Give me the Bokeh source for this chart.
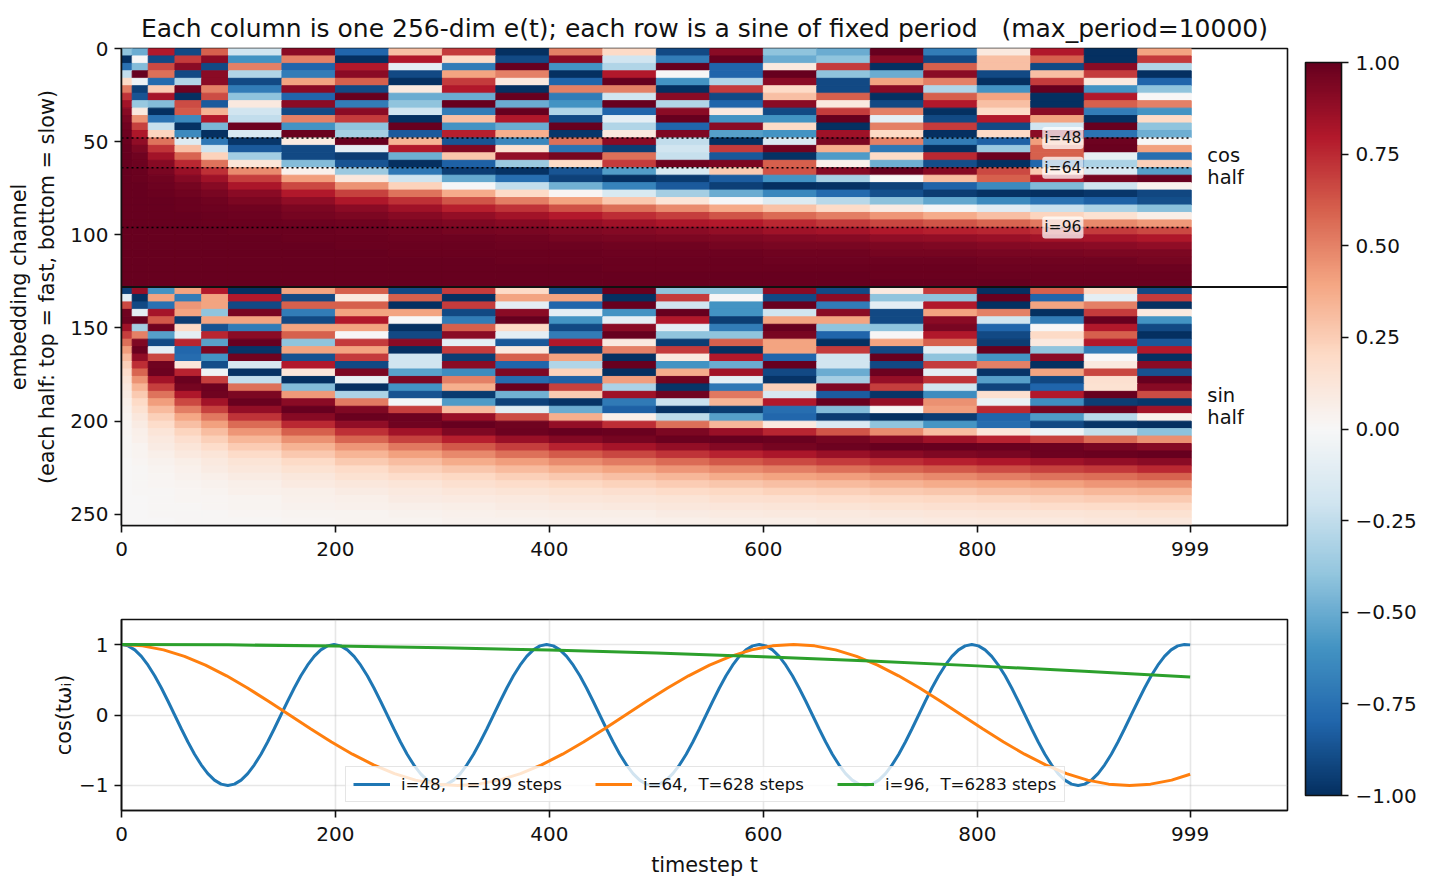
import numpy as np
from bokeh.embed import file_html
from bokeh.resources import INLINE
from bokeh.plotting import figure
from bokeh.layouts import column, row
from bokeh.models import (Range1d, FixedTicker, LinearColorMapper, ColorBar, Label, Span,
                          Legend, LegendItem, ColumnDataSource)
from bokeh.transform import transform

FONT = "DejaVu Sans"

# ---- data ----
TITLE = "Each column is one 256-dim e(t); each row is a sine of fixed period \u00a0 (max_period=10000)"
t_edges = [0, 10, 25, 50, 75, 100, 150, 200, 250, 300, 350, 400, 450, 500, 550, 600, 650, 700, 750, 800, 850, 900, 950, 1000]
row_step_edges = [0, 4, 8, 12, 16, 20, 24, 28, 32, 36, 40, 44, 48, 52, 56, 60, 64, 68, 72, 76, 80, 84, 88, 92, 96, 100, 104, 108, 112, 116, 120, 124, 128]

cos_rows = [
 [-.4,-.5,.8,-.9,.6,-.2,.9,-.8,.3,.7,-1,.5,.2,-.9,.9,-.4,-.5,1,-.7,.1,.8,-1,.4],
 [-1,0,-.9,.7,.9,-.6,.5,-1,.8,.2,-.9,.9,-.2,-.7,1,-.5,-.4,.9,-.9,.3,.6,-1,.7],
 [-.75,-.43,.66,.9,-.9,.5,-.8,.8,-.1,-.7,1,-.6,-.3,1,-.8,.1,.7,-1,.6,.3,-.9,.9,-.3],
 [-.25,1,.55,-.9,.9,-.3,-.7,.9,-.9,.4,.5,-1,.8,0,-.8,1,-.4,-.5,.9,-.9,.3,.7,-1],
 [.2,-.05,-.78,-.3,.9,-.9,.4,.6,-1,.7,.1,-.8,1,-.6,-.3,.9,-.9,.4,.5,-1,.7,.1,-.8],
 [.52,-.94,.25,.98,.5,-.7,.9,-.9,.1,.8,-1,.5,.5,-1,.7,.2,-.9,.9,-.3,-.6,1,-.6,-.4],
 [.72,-.86,.83,-1,.65,-.4,-.8,1,-.5,-.5,1,-.7,-.2,.9,-.9,.3,.6,-1,.6,.4,-1,.8,0],
 [.84,-.38,-.43,.65,-.84,.1,.9,-.7,-.4,1,-.5,-.6,1,-.3,-.8,.9,.1,-.9,.8,.3,-1,.6,.5],
 [.91,.1,-1,.61,.35,-.2,-.9,.9,-.2,-.7,1,-.3,-.8,.9,.1,-.9,.7,.5,-1,.2,.9,-.7,-.6],
 [.95,.45,-.74,-.64,.8,-.25,.5,.7,-1,.3,.8,-.9,-.1,1,-.6,-.6,1,-.1,-.9,.8,.4,-1,.2],
 [.97,.68,-.23,-.99,-.46,.98,-.6,-.4,1,-.6,-.5,1,-.3,-.8,.9,.2,-1,.5,.7,-.9,-.2,1,-.4],
 [.98,.81,.22,-.64,-1,-.15,.99,-.34,-.84,.78,.36,-.97,.1,.93,-.55,-.6,.85,.2,-1,.2,.9,-.74,-.49],
 [.99,.89,.54,-.13,-.72,-.97,.09,1,.35,-.86,-.65,.55,.9,-.25,-1,-.15,.94,.5,-.7,-.82,.42,.98,0],
 [1,.94,.72,.3,-.21,-.84,-.9,-.1,.8,.93,.15,-.74,-.95,-.2,.7,.97,.36,-.72,-1,-.37,.6,.99,.41],
 [1,.97,.84,.58,.23,-.35,-.9,-.95,-.49,.28,.88,.96,.55,-.23,-.85,-.99,-.57,.2,.75,.98,.6,-.08,-.76],
 [1,.98,.91,.75,.54,.13,-.43,-.86,-1,-.82,-.37,.2,.7,.97,.94,.6,.05,-.49,-.89,-1,-.79,-.32,.24],
 [1,.99,.95,.86,.73,.47,.05,-.37,-.72,-.95,-.99,-.86,-.56,-.16,.26,.64,.91,1,.91,.66,.27,-.15,-.55],
 [1,.99,.97,.92,.85,.69,.42,.11,-.21,-.51,-.76,-.93,-1,-.96,-.83,-.6,-.33,0,.31,.6,.82,.96,1],
 [1,1,.98,.96,.91,.82,.66,.45,.23,-.01,-.25,-.48,-.67,-.84,-.94,-1,-.99,-.93,-.81,-.64,-.44,-.21,.04],
 [1,1,.99,.97,.95,.9,.8,.68,.54,.37,.2,.02,-.16,-.34,-.5,-.65,-.78,-.88,-.95,-.99,-1,-.97,-.91],
 [1,1,1,.99,.97,.94,.89,.81,.73,.63,.51,.4,.27,.13,-.01,-.14,-.28,-.41,-.52,-.64,-.74,-.82,-.89],
 [1,1,1,.99,.98,.97,.94,.9,.85,.78,.72,.64,.56,.47,.38,.29,.19,.08,-.02,-.12,-.22,-.32,-.42],
 [1,1,1,1,.99,.98,.96,.94,.91,.88,.84,.79,.74,.69,.63,.57,.51,.44,.37,.3,.22,.15,.07],
 [1,1,1,1,.99,.99,.98,.97,.95,.93,.91,.88,.85,.82,.79,.75,.71,.67,.63,.58,.53,.48,.43],
 [1,1,1,1,1,.99,.99,.98,.97,.96,.95,.93,.92,.9,.88,.85,.83,.8,.78,.76,.73,.7,.66],
 [1,1,1,1,1,1,.99,.99,.98,.98,.97,.96,.95,.94,.93,.92,.91,.89,.88,.86,.84,.83,.81],
 [1,1,1,1,1,1,1,.99,.99,.99,.98,.98,.97,.97,.96,.95,.95,.94,.93,.92,.91,.9,.89],
 [1,1,1,1,1,1,1,1,.99,.99,.99,.99,.98,.98,.98,.97,.97,.96,.96,.95,.95,.94,.94],
 [1,1,1,1,1,1,1,1,1,1,.99,.99,.99,.99,.99,.98,.98,.98,.98,.97,.97,.97,.96],
 [1,1,1,1,1,1,1,1,1,1,1,1,.99,.99,.99,.99,.99,.99,.99,.98,.98,.98,.98],
 [1,1,1,1,1,1,1,1,1,1,1,1,1,1,1,1,1,.99,.99,.99,.99,.99,.99],
 [1,1,1,1,1,1,1,1,1,1,1,1,1,1,1,1,1,1,1,1,.99,.99,.99],
]

sin_rows = [
 [-.93,.87,-.6,.4,.8,-1,.4,.6,-.9,.7,.2,-.9,1,-.4,-.4,.9,-.9,.1,.7,-1,.6,.2,-.9],
 [-.1,-1,.4,-.7,.4,.8,-.9,.1,.6,-1,.4,.4,-1,.7,0,-.9,.9,-.4,-.4,1,-.8,-.1,.7],
 [.66,-.9,-.75,.44,.4,-.9,.6,.6,-1,.7,-.1,-.8,1,-.2,-.6,1,-.7,-.1,.8,-1,.4,.5,-1],
 [.97,-.1,.83,.4,-.4,.95,-.7,.4,.4,-.9,.9,-.1,-.6,1,-.6,-.2,.9,-.9,.4,.5,-1,.7,.1],
 [.98,1,.62,-.95,.4,.4,-.9,.8,0,-.7,1,-.6,-.1,.8,-.95,.4,.4,-.9,.9,-.2,-.7,1,-.6],
 [.85,-.34,.97,.2,-.87,-.7,.4,.4,-1,.6,.2,-.9,.9,-.1,-.7,1,-.4,-.4,.95,-.8,0,.8,-.9],
 [.69,.5,-.55,-.1,.76,.9,.6,0,-.9,.9,-.1,-.7,1,-.4,-.4,.95,-.8,0,.8,-.9,.2,.6,-1],
 [.55,.93,-.9,.76,-.54,1,-.4,.7,.9,-.1,-.85,.8,.1,-.95,.6,.4,-1,.4,.6,-.95,.1,.8,-.85],
 [.42,.99,-.1,-.79,.94,-.98,.4,.4,-1,.7,.1,-.95,.5,.7,-1,.4,.7,-.9,-.1,1,-.4,-.7,.8],
 [.32,.89,.67,-.77,-.6,.97,-.87,.7,-.2,-.95,.6,.4,-1,.1,.8,-.8,-.2,1,-.4,-.6,.9,0,-1],
 [.24,.74,.97,.12,-.89,-.17,.8,-.9,-.2,.9,-.8,-.3,1,-.6,-.5,1,-.2,-.9,.7,.5,-1,.1,.9],
 [.18,.58,.98,.77,-.04,-.99,.12,.94,-.54,-.63,.93,.23,-1,.37,.84,-.9,-.5,.98,-.1,-.98,.4,.67,-.87],
 [.14,.45,.84,.99,.69,-.25,-1,-.08,.94,.5,-.77,-.82,.42,.97,-.1,-.98,-.34,.87,.72,-.55,-.91,.16,1],
 [.1,.34,.69,.96,.98,.55,-.43,-1,-.6,.36,.99,.68,-.32,-.98,-.72,.24,.93,.69,-.19,-.92,-.8,.15,.91],
 [.08,.26,.54,.81,.97,.94,.43,-.32,-.87,-.96,-.48,.26,.85,.97,.53,-.17,-.83,-.98,-.63,.16,.8,1,.65],
 [.06,.2,.42,.66,.84,.99,.9,.52,-.03,-.57,-.93,-.98,-.71,-.22,.34,.8,1,.87,.46,-.07,-.62,-.95,-.97],
 [.04,.15,.32,.51,.68,.88,1,.93,.69,.32,-.11,-.5,-.82,-.99,-.96,-.76,-.43,0,.42,.75,.96,.99,.84],
 [.03,.11,.24,.39,.53,.72,.91,.99,.98,.86,.65,.36,.06,-.26,-.55,-.79,-.95,-1,-.95,-.8,-.57,-.28,.05],
 [.02,.08,.18,.3,.41,.57,.75,.89,.97,1,.97,.88,.74,.55,.33,.1,-.15,-.4,-.59,-.77,-.9,-.98,-1],
 [.02,.06,.13,.22,.31,.44,.6,.73,.84,.93,.98,1,.99,.94,.86,.76,.63,.47,.31,.13,-.05,-.24,-.41],
 [.01,.05,.1,.17,.24,.33,.46,.58,.68,.78,.86,.92,.96,.99,1,.99,.96,.91,.85,.77,.68,.57,.46],
 [.01,.03,.08,.13,.18,.25,.35,.44,.53,.62,.69,.77,.83,.88,.92,.96,.98,1,1,.99,.98,.95,.91],
 [.01,.03,.06,.1,.13,.19,.27,.34,.41,.48,.55,.61,.67,.72,.77,.82,.86,.9,.93,.95,.98,.99,1],
 [0,.02,.04,.07,.1,.14,.2,.26,.31,.37,.42,.47,.52,.57,.62,.66,.7,.74,.78,.81,.85,.88,.9],
 [0,.01,.03,.05,.08,.11,.15,.19,.24,.28,.32,.36,.4,.44,.48,.51,.55,.59,.62,.65,.68,.71,.75],
 [0,.01,.02,.04,.06,.08,.11,.15,.18,.21,.24,.27,.3,.33,.37,.4,.42,.45,.48,.51,.54,.56,.59],
 [0,.01,.02,.03,.04,.06,.09,.11,.13,.16,.18,.21,.23,.25,.28,.3,.32,.35,.37,.39,.41,.44,.46],
 [0,.01,.01,.02,.03,.05,.06,.08,.1,.12,.14,.15,.17,.19,.21,.23,.24,.26,.28,.3,.31,.33,.35],
 [0,0,.01,.02,.02,.03,.05,.06,.08,.09,.1,.12,.13,.14,.16,.17,.18,.2,.21,.22,.24,.25,.26],
 [0,0,.01,.01,.02,.03,.04,.05,.06,.07,.08,.09,.1,.11,.12,.13,.14,.15,.16,.17,.18,.19,.2],
 [0,0,.01,.01,.01,.02,.03,.03,.04,.05,.06,.07,.07,.08,.09,.1,.1,.11,.12,.13,.13,.14,.15],
 [0,0,0,.01,.01,.01,.02,.03,.03,.04,.04,.05,.05,.06,.07,.07,.08,.08,.09,.1,.1,.11,.11],
]

blue_t = [0,6.2,12.4,18.6,24.8,31,37.3,43.5,49.7,55.9,62.1,68.3,74.5,80.7,86.9,93.1,99.4,105.6,111.8,118,124.2,130.4,136.6,142.8,149,155.3,161.5,167.7,173.9,180.1,186.3,192.5,
 198.7,204.9,211.1,217.4,223.6,229.8,236,242.2,248.4,254.6,260.8,267,273.2,279.5,285.7,291.9,298.1,304.3,310.5,316.7,322.9,329.1,335.3,341.6,347.8,354,360.2,366.4,372.6,378.8,385,391.2,
 397.4,403.7,409.9,416.1,422.3,428.5,434.7,440.9,447.1,453.3,459.6,465.8,472,478.2,484.4,490.6,496.8,503,509.2,515.4,521.7,527.9,534.1,540.3,546.5,552.7,558.9,565.1,571.3,577.5,583.8,590,
 596.2,602.4,608.6,614.8,621,627.2,633.4,639.7,645.9,652.1,658.3,664.5,670.7,676.9,683.1,689.3,695.5,701.8,708,714.2,720.4,726.6,732.8,739,745.2,751.4,757.6,763.9,770.1,776.3,782.5,788.7,
 794.9,801.1,807.3,813.5,819.7,826,832.2,838.4,844.6,850.8,857,863.2,869.4,875.6,881.8,888.1,894.3,900.5,906.7,912.9,919.1,925.3,931.5,937.7,943.9,950.2,956.4,962.6,968.8,975,981.2,987.4,
 993.6,999]
blue_v = [1,.981,.924,.831,.707,.556,.383,.195,0,-.195,-.383,-.556,-.707,-.831,-.924,-.981,-1,-.981,-.924,-.831,-.707,-.556,-.383,-.195,0,.195,.383,.556,.707,.831,.924,.981,
 1,.981,.924,.831,.707,.556,.383,.195,0,-.195,-.383,-.556,-.707,-.831,-.924,-.981,-1,-.981,-.924,-.831,-.707,-.556,-.383,-.195,0,.195,.383,.556,.707,.831,.924,.981,
 1,.981,.924,.831,.707,.556,.383,.195,0,-.195,-.383,-.556,-.707,-.831,-.924,-.981,-1,-.981,-.924,-.831,-.707,-.556,-.383,-.195,0,.195,.383,.556,.707,.831,.924,.981,
 1,.981,.924,.831,.707,.556,.383,.195,0,-.195,-.383,-.556,-.707,-.831,-.924,-.981,-1,-.981,-.924,-.831,-.707,-.556,-.383,-.195,0,.195,.383,.556,.707,.831,.924,.981,
 1,.981,.924,.831,.707,.556,.383,.195,0,-.195,-.383,-.556,-.707,-.831,-.924,-.981,-1,-.981,-.924,-.831,-.707,-.556,-.383,-.195,0,.195,.383,.556,.707,.831,.924,.981,
 1,.995]
orange_t = [0,19.6,39.3,58.9,78.5,98.2,117.8,137.4,157.1,176.7,196.3,215.9,235.6,255.2,274.8,294.5,314.1,333.7,353.4,373,392.7,412.3,431.9,451.6,471.2,490.8,510.5,530.1,549.7,569.4,589,608.6,628.3,647.9,667.5,687.2,706.8,726.4,746.1,765.7,785.3,805,824.6,844.2,863.9,883.5,903.1,922.8,942.4,962,981.7,999]
orange_v = [1,.981,.924,.831,.707,.556,.383,.195,0,-.195,-.383,-.556,-.707,-.831,-.924,-.981,-1,-.981,-.924,-.831,-.707,-.556,-.383,-.195,0,.195,.383,.556,.707,.831,.924,.981,1,.981,.924,.831,.707,.556,.383,.195,0,-.195,-.383,-.556,-.707,-.831,-.924,-.981,-1,-.981,-.924,-.84]
green_t = [0,100,200,300,400,500,600,700,800,900,999]
green_v = [1,.995,.98,.955,.921,.878,.825,.765,.697,.622,.54]

marked_channels = [48, 64, 96]
marked_names = ["i=48", "i=64", "i=96"]
legend_names = ["i=48,  T=199 steps", "i=64,  T=628 steps", "i=96,  T=6283 steps"]
x_ticks = [0, 200, 400, 600, 800, 999]
heat_y_ticks = [0, 50, 100, 150, 200, 250]
line_y_ticks = [-1, 0, 1]
cbar_ticks = [-1, -.75, -.5, -.25, 0, .25, .5, .75, 1]
cbar_labels = ["\u22121.00", "\u22120.75", "\u22120.50", "\u22120.25", "0.00", "0.25", "0.50", "0.75", "1.00"]
rdbu_anchors = ["#053061", "#2166ac", "#4393c3", "#92c5de", "#d1e5f0", "#f7f7f7", "#fddbc7", "#f4a582", "#d6604d", "#b2182b", "#67001f"]


# ---- colour scale ----
def hex_rgb(h):
    return [int(h[k:k + 2], 16) for k in (1, 3, 5)]

anchor_rgb = np.array([hex_rgb(h) for h in rdbu_anchors], dtype=float)
pos = np.linspace(0, 1, 256) * (len(rdbu_anchors) - 1)
palette = ["#%02x%02x%02x" % tuple(int(round(np.interp(q, range(len(rdbu_anchors)), anchor_rgb[:, c]))) for c in range(3)) for q in pos]
mapper = LinearColorMapper(palette=palette, low=-1, high=1)

TICK_PX = "20px"
LABEL_PX = "20.8px"


def style(p):
    p.outline_line_color = "#111111"
    p.outline_line_width = 1.6
    p.title.text_font = FONT
    p.title.text_font_style = "normal"
    for ax in (p.xaxis[0], p.yaxis[0]):
        ax.minor_tick_line_color = None
        ax.major_tick_in = 0
        ax.major_tick_out = 7
        ax.major_tick_line_width = 1.6
        ax.major_tick_line_color = "#111111"
        ax.axis_line_width = 1.6
        ax.axis_line_color = "#111111"
        ax.major_label_text_font = FONT
        ax.major_label_text_font_size = TICK_PX
        ax.major_label_text_color = "#111111"
        ax.major_label_standoff = 6
        ax.axis_label_text_font = FONT
        ax.axis_label_text_font_style = "normal"
        ax.axis_label_text_font_size = LABEL_PX
        ax.axis_label_text_color = "#111111"
    p.xaxis[0].ticker = FixedTicker(ticks=x_ticks)
    p.xaxis[0].major_label_standoff = 9


# ---- heat map ----
p1 = figure(width=1297, height=572, frame_width=1166, frame_height=477, output_backend="svg",
            toolbar_location=None, x_range=Range1d(0, 1090), y_range=Range1d(256, 0),
            min_border_left=121, min_border_right=10, min_border_top=48, min_border_bottom=47,
            title=TITLE)
p1.title.align = "center"
p1.title.text_font_size = "25px"
p1.title.text_color = "#111111"
p1.title.offset = 0
p1.title.standoff = 12
p1.grid.visible = False
style(p1)
p1.yaxis[0].ticker = FixedTicker(ticks=heat_y_ticks)
p1.yaxis[0].axis_label = "embedding channel\n(each half: top = fast, bottom = slow)"
p1.yaxis[0].axis_label_standoff = 8

left, right, top, bottom, val = [], [], [], [], []
for offset, rows in ((0, cos_rows), (128, sin_rows)):
    for r, values in enumerate(rows):
        for c, v in enumerate(values):
            left.append(t_edges[c])
            right.append(t_edges[c + 1])
            top.append(offset + row_step_edges[r])
            bottom.append(offset + row_step_edges[r + 1])
            val.append(v)
src = ColumnDataSource(dict(left=left, right=right, top=top, bottom=bottom, val=val))
p1.quad(left="left", right="right", top="top", bottom="bottom", source=src,
        fill_color=transform("val", mapper), line_color=transform("val", mapper), line_width=1)

for ch, name in zip(marked_channels, marked_names):
    p1.line([0, x_ticks[-1]], [ch, ch], line_color="black", line_width=1.5, line_dash="2 3")
    p1.add_layout(Label(x=880, y=ch, text=name, text_font=FONT, text_font_size="15.6px", text_color="#111111",
                        text_align="center", text_baseline="middle",
                        background_fill_color="white", background_fill_alpha=0.75, border_radius=3,
                        padding=2))
p1.add_layout(Span(location=128, dimension="width", line_color="#111111", line_width=2))
for yy, txt in ((57.4, "cos"), (69.2, "half"), (186, "sin"), (198, "half")):
    p1.add_layout(Label(x=1015, y=yy, text=txt, text_font=FONT, text_font_size="19.5px", text_color="#111111",
                        text_align="left", text_baseline="middle"))

# ---- three traces ----
p2 = figure(width=1297, height=313, frame_width=1166, frame_height=191, output_backend="svg",
            toolbar_location=None, x_range=Range1d(0, 1090), y_range=Range1d(-1.355, 1.355),
            min_border_left=121, min_border_right=10, min_border_top=47, min_border_bottom=75)
style(p2)
p2.yaxis[0].ticker = FixedTicker(ticks=line_y_ticks)
p2.yaxis[0].major_label_overrides = {-1: "\u22121", 0: "0", 1: "1"}
p2.yaxis[0].axis_label = "cos(t\u03c9\u1d62)"
p2.yaxis[0].axis_label_standoff = 0
p2.xaxis[0].axis_label = "timestep t"
p2.xaxis[0].axis_label_standoff = 9
p2.grid.grid_line_color = "#b0b0b0"
p2.grid.grid_line_alpha = 0.3
p2.grid.grid_line_width = 1.6
p2.xgrid.ticker = FixedTicker(ticks=x_ticks)
p2.ygrid.ticker = FixedTicker(ticks=line_y_ticks)

r_blue = p2.line(blue_t, blue_v, line_color="#1f77b4", line_width=3)
r_orange = p2.line(orange_t, orange_v, line_color="#ff7f0e", line_width=3)
r_green = p2.line(green_t, green_v, line_color="#2ca02c", line_width=3)
legend = Legend(items=[LegendItem(label=legend_names[0], renderers=[r_blue]),
                       LegendItem(label=legend_names[1], renderers=[r_orange]),
                       LegendItem(label=legend_names[2], renderers=[r_green])],
                orientation="horizontal", location=(224, 8), label_text_font=FONT,
                label_text_font_size="16.6px", label_text_color="#111111", glyph_width=37, glyph_height=16,
                label_standoff=11, spacing=33, padding=7, margin=0, label_height=20,
                background_fill_color="white", background_fill_alpha=0.8,
                border_line_color="#cccccc", border_line_width=1.6)
p2.add_layout(legend, "center")

# ---- colour bar ----
p3 = figure(width=129, height=885, frame_width=121, frame_height=733, output_backend="svg",
            toolbar_location=None, x_range=Range1d(0, 1), y_range=Range1d(0, 1),
            x_axis_location=None, y_axis_location=None,
            min_border_left=8, min_border_right=0, min_border_top=62, min_border_bottom=90)
p3.outline_line_color = None
p3.grid.visible = False
cb = ColorBar(color_mapper=mapper, width=36, height=733, location=(0, 0), padding=0, margin=0,
              ticker=FixedTicker(ticks=cbar_ticks),
              major_label_overrides=dict(zip(cbar_ticks, cbar_labels)),
              major_label_text_font=FONT, major_label_text_font_size=TICK_PX, major_label_text_color="#111111",
              major_tick_in=0, major_tick_out=7, major_tick_line_color="#111111", major_tick_line_width=1.6,
              bar_line_color="#111111", bar_line_width=1.6, label_standoff=7,
              background_fill_color=None)
p3.add_layout(cb, "center")

layout = row(column(p1, p2, spacing=0), p3, spacing=0)
open("out.html", "w").write(file_html(layout, INLINE))
